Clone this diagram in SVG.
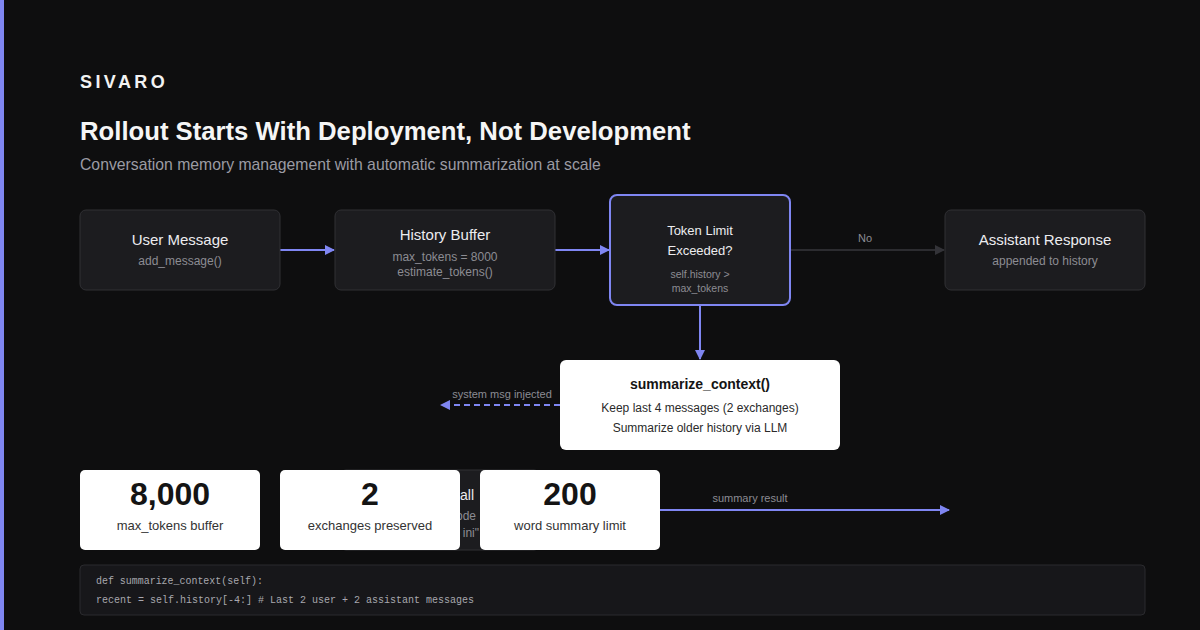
<svg xmlns="http://www.w3.org/2000/svg" width="1200" height="630" viewBox="0 0 1200 630">
<defs>
<style>
.bg{fill:#0e0e0f}
.node rect{fill:#1c1c1f;stroke:#303034;stroke-width:1}
.t{font-family:"Liberation Sans",Arial,sans-serif;text-anchor:middle}
.nt{font-size:15px;fill:#ececef}
.ns{font-size:12px;fill:#8c8c93}
.card rect{fill:#ffffff}
.big{font-size:32px;font-weight:600;fill:#141414}
.cl{font-size:13px;fill:#333333}
.lbl{font-size:11px;fill:#8c8c93}
.edge{stroke:#7f86f2;stroke-width:2;fill:none}
.code{font-family:"Liberation Mono","Courier New",monospace;font-size:11px;fill:#a8a8ae}
.frag{font-family:"Liberation Sans",Arial,sans-serif;text-anchor:end}
</style>
<clipPath id="gap"><rect x="460" y="470" width="20" height="80"/></clipPath>
<marker id="ap" viewBox="0 0 10 10" refX="9" refY="5" markerWidth="5" markerHeight="5" orient="auto-start-reverse"><path d="M0,0 L10,5 L0,10 z" fill="#7f86f2"/></marker>
<marker id="ag" viewBox="0 0 10 10" refX="9" refY="5" markerWidth="5" markerHeight="5" orient="auto-start-reverse"><path d="M0,0 L10,5 L0,10 z" fill="#333338"/></marker>
</defs>
<rect class="bg" x="0" y="0" width="1200" height="630"/>
<rect x="0" y="0" width="4" height="630" fill="#7f86f2"/>
<g id="header">
<text x="80" y="88" font-family="Liberation Sans,Arial,sans-serif" font-size="18" font-weight="600" letter-spacing="3.4" fill="#f2f2f2">SIVARO</text>
<text x="80" y="140" font-family="Liberation Sans,Arial,sans-serif" font-size="25.7" font-weight="600" fill="#f5f5f5">Rollout Starts With Deployment, Not Development</text>
<text x="80" y="170" font-family="Liberation Sans,Arial,sans-serif" font-size="15.75" fill="#9b9ba3">Conversation memory management with automatic summarization at scale</text>
</g>
<g id="connectors">
<line class="edge" x1="280" y1="250" x2="334" y2="250" marker-end="url(#ap)"/>
<line class="edge" x1="555" y1="250" x2="609" y2="250" marker-end="url(#ap)"/>
<line x1="790" y1="250" x2="944" y2="250" stroke="#2c2c30" stroke-width="2" marker-end="url(#ag)"/>
<text class="t lbl" x="865" y="242">No</text>
<line class="edge" x1="700" y1="305" x2="700" y2="359" marker-end="url(#ap)"/>
<line class="edge" x1="560" y1="405" x2="441" y2="405" stroke-dasharray="6,4" marker-end="url(#ap)"/>
<text class="t lbl" x="502" y="398">system msg injected</text>
<line class="edge" x1="660" y1="510" x2="949" y2="510" marker-end="url(#ap)"/>
<text class="t lbl" x="750" y="502">summary result</text>
</g>
<g id="user-message" class="node">
<rect x="80" y="210" width="200" height="80" rx="6"/>
<text class="t nt" x="180" y="245">User Message</text>
<text class="t ns" x="180" y="265">add_message()</text>
</g>
<g id="history-buffer" class="node">
<rect x="335" y="210" width="220" height="80" rx="6"/>
<text class="t nt" x="445" y="240">History Buffer</text>
<text class="t ns" x="445" y="261">max_tokens = 8000</text>
<text class="t ns" x="445" y="276">estimate_tokens()</text>
</g>
<g id="token-limit" class="node">
<rect x="610" y="195" width="180" height="110" rx="7" style="stroke:#7f86f2;stroke-width:2"/>
<text class="t" x="700" y="235" font-size="13" fill="#ececef">Token Limit</text>
<text class="t" x="700" y="255" font-size="13" fill="#ececef">Exceeded?</text>
<text class="t" x="700" y="278" font-size="10.5" fill="#8c8c93">self.history &gt;</text>
<text class="t" x="700" y="292" font-size="10.5" fill="#8c8c93">max_tokens</text>
</g>
<g id="assistant-response" class="node">
<rect x="945" y="210" width="200" height="80" rx="6"/>
<text class="t nt" x="1045" y="245">Assistant Response</text>
<text class="t ns" x="1045" y="265">appended to history</text>
</g>
<g id="summarize-context">
<rect x="560" y="360" width="280" height="90" rx="6" fill="#ffffff"/>
<text class="t" x="700" y="389" font-size="14" font-weight="600" fill="#141414">summarize_context()</text>
<text class="t" x="700" y="412" font-size="12" fill="#2a2a2a">Keep last 4 messages (2 exchanges)</text>
<text class="t" x="700" y="432" font-size="12" fill="#2a2a2a">Summarize older history via LLM</text>
</g>
<g id="hidden-node" class="node">
<rect x="340" y="470" width="200" height="80" rx="6"/>
<g clip-path="url(#gap)">
<text class="frag" x="474" y="500" font-size="14" fill="#ececef">all</text>
<text class="frag" x="476" y="520" font-size="12" fill="#8c8c93">ode</text>
<text class="frag" x="479" y="537" font-size="12" fill="#8c8c93">ini"</text>
</g>
</g>
<g id="stat-max-tokens" class="card">
<rect x="80" y="470" width="180" height="80" rx="5"/>
<text class="t big" x="170" y="505">8,000</text>
<text class="t cl" x="170" y="530">max_tokens buffer</text>
</g>
<g id="stat-exchanges" class="card">
<rect x="280" y="470" width="180" height="80" rx="5"/>
<text class="t big" x="370" y="505">2</text>
<text class="t cl" x="370" y="530">exchanges preserved</text>
</g>
<g id="stat-words" class="card">
<rect x="480" y="470" width="180" height="80" rx="5"/>
<text class="t big" x="570" y="505">200</text>
<text class="t cl" x="570" y="530">word summary limit</text>
</g>
<g id="code-block">
<rect x="80" y="565" width="1065" height="50" rx="4" fill="#17171a" stroke="#2a2a2e"/>
<text class="code" x="96" y="584" textLength="167" lengthAdjust="spacingAndGlyphs">def summarize_context(self):</text>
<text class="code" x="96" y="603" textLength="378" lengthAdjust="spacingAndGlyphs">recent = self.history[-4:] # Last 2 user + 2 assistant messages</text>
</g>
</svg>
